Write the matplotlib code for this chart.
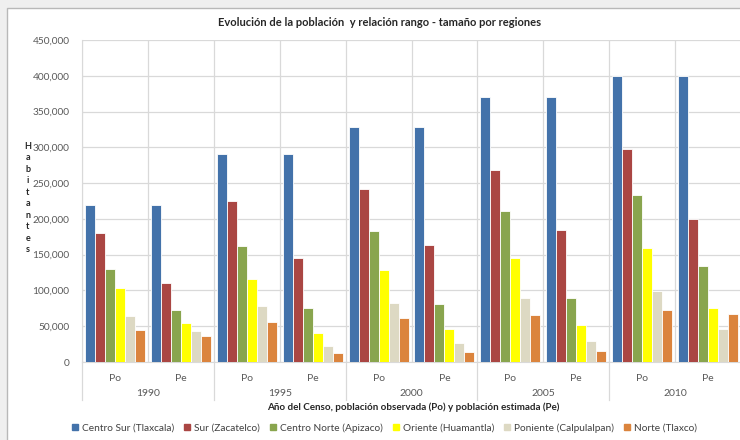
import matplotlib
matplotlib.use('Agg')
import matplotlib.pyplot as plt
import numpy as np
from matplotlib.patches import Rectangle
from matplotlib.lines import Line2D
from matplotlib.ticker import FuncFormatter, MultipleLocator

plt.rcParams['font.family'] = ['Lato', 'DejaVu Sans']

years = ['1990', '1995', '2000', '2005', '2010']
subcats = ['Po', 'Pe']
series_names = ['Centro Sur (Tlaxcala)', 'Sur (Zacatelco)', 'Centro Norte (Apizaco)',
                'Oriente (Huamantla)', 'Poniente (Calpulalpan)', 'Norte (Tlaxco)']
centro_sur = [220000, 220000, 290000, 290000, 329000, 329000, 370000, 370000, 400000, 400000]
sur = [180000, 110000, 225000, 145000, 242000, 164000, 269000, 185000, 297000, 200000]
centro_norte = [130000, 73000, 162000, 75000, 183000, 81000, 211000, 90000, 233000, 134000]
oriente = [104000, 55000, 116000, 40000, 128000, 46000, 145000, 52000, 159000, 75000]
poniente = [64000, 44000, 78000, 22000, 83000, 26000, 90000, 29000, 99000, 46000]
norte = [45000, 36000, 56000, 13000, 62000, 14000, 66000, 16000, 73000, 67000]
series = [centro_sur, sur, centro_norte, oriente, poniente, norte]
colors = ['#4372AA', '#AA4643', '#89A54E', '#FFFF00', '#DDD9C3', '#DB843D']

W, H = 740, 440
fig = plt.figure(figsize=(W / 100, H / 100), dpi=100)
fig.patch.set_facecolor('#EFEFEF')

# chart frame (white area with grey border, cropped on right/bottom)
frame = Rectangle((7 / W, -0.1), 1.1, 1 - 8 / H + 0.1, transform=fig.transFigure,
                  facecolor='white', edgecolor='#B8B8B8', lw=1.0, zorder=-5)
fig.patches.append(frame)

x0, x1, yb, yt = 82, 741, 362, 40
ax = fig.add_axes([x0 / W, 1 - yb / H, (x1 - x0) / W, (yb - yt) / H])
ax.set_zorder(2)
ax.set_facecolor('none')

n_cat = len(years) * len(subcats)
x = np.arange(n_cat)
group_w = 0.91
bw = group_w / len(series)
for i, (vals, c, name) in enumerate(zip(series, colors, series_names)):
    ax.bar(x - group_w / 2 + bw * (i + 0.5), vals, width=bw, color=c,
           edgecolor='white', linewidth=0.6, label=name, zorder=3)

ax.set_xlim(-0.5, n_cat - 0.5)
ax.set_ylim(0, 450000)
ax.yaxis.set_major_locator(MultipleLocator(50000))
ax.yaxis.set_major_formatter(FuncFormatter(lambda v, p: f'{int(v):,}'))
ax.set_xticks(np.arange(-0.5, n_cat, 1.0))
ax.set_xticklabels([])
ax.tick_params(axis='x', length=0)
ax.tick_params(axis='y', length=0, labelsize=7.3, labelcolor='#595959', pad=9)
ax.grid(True, color='#D9D9D9', lw=0.9, zorder=0)
ax.set_axisbelow(True)
for s in ['top', 'right']:
    ax.spines[s].set_visible(False)
ax.spines['left'].set_color('#D9D9D9')
ax.spines['bottom'].set_color('#D9D9D9')

# multi-level category labels
for k in range(n_cat):
    fig.text((x0 + (k + 0.5) * (x1 - x0) / n_cat) / W, 1 - 378 / H, subcats[k % 2],
             ha='center', va='center', fontsize=7.5, color='#595959')
for j, yr in enumerate(years):
    fig.text((x0 + (2 * j + 1) * (x1 - x0) / n_cat) / W, 1 - 393 / H, yr,
             ha='center', va='center', fontsize=7.5, color='#595959')
for j in range(len(years) + 1):
    xx = (x0 + 2 * j * (x1 - x0) / n_cat) / W
    fig.add_artist(Line2D([xx, xx], [1 - yb / H, 1 - 400 / H], transform=fig.transFigure,
                          color='#D9D9D9', lw=0.9))

fig.text(380 / W, 1 - 22 / H, 'Evolución de la población  y relación rango - tamaño por regiones',
         ha='center', va='center', fontsize=8, fontweight='bold', color='#262626')
fig.text(413 / W, 1 - 407 / H, 'Año del Censo, población observada (Po) y población estimada (Pe)',
         ha='center', va='center', fontsize=7.1, fontweight='bold', color='#262626')
fig.text(28 / W, 1 - 198 / H, '\n'.join('Habitantes'), ha='center', va='center',
         fontsize=6.5, fontweight='bold', color='#262626', linespacing=1.35)

handles = [Line2D([], [], marker='s', linestyle='none', markersize=4.5, color=c) for c in colors]
fig.legend(handles, series_names, loc='center', bbox_to_anchor=(384 / W, 1 - 428 / H),
           ncol=6, frameon=False, fontsize=7.3, handlelength=0.8, handletextpad=0.3,
           columnspacing=0.85, labelcolor='#404040')

fig.savefig('out.png', dpi=100, facecolor=fig.get_facecolor())
